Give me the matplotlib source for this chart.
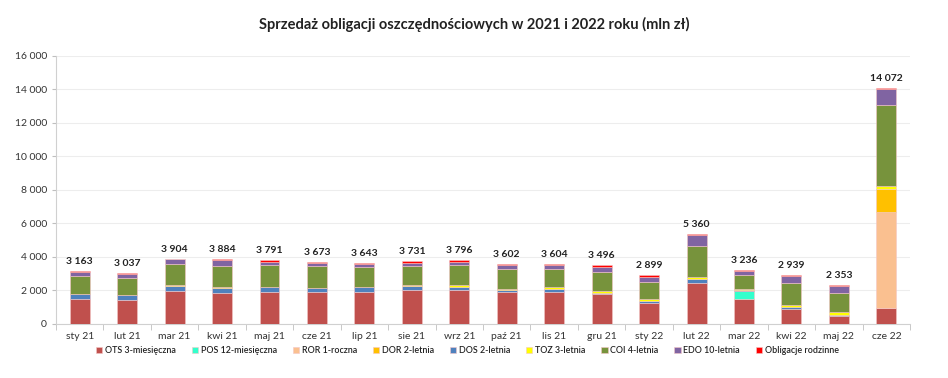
import numpy as np
import matplotlib
matplotlib.use("Agg")
import matplotlib.pyplot as plt

plt.rcParams['font.family'] = ['Lato', 'DejaVu Sans']

# miesiace
months = ["sty 21", "lut 21", "mar 21", "kwi 21", "maj 21", "cze 21",
          "lip 21", "sie 21", "wrz 21", "paź 21", "lis 21", "gru 21",
          "sty 22", "lut 22", "mar 22", "kwi 22", "maj 22", "cze 22"]

# sprzedaz w mln zl
ots = [1470, 1430, 1970, 1830, 1890, 1930, 1930, 2030, 2030, 1930, 1930, 1770,
       1270, 2430, 1490, 880, 480, 970]
pos = [0, 0, 0, 0, 0, 0, 0, 0, 0, 0, 0, 0, 0, 0, 480, 0, 0, 0]
ror = [0, 0, 0, 0, 0, 0, 0, 0, 0, 0, 0, 0, 0, 0, 0, 0, 0, 5730]
dor = [0, 0, 0, 0, 0, 0, 0, 0, 0, 0, 0, 0, 0, 0, 0, 0, 0, 1340]
dos = [300, 300, 320, 340, 320, 220, 260, 260, 200, 120, 180, 100,
       120, 240, 60, 150, 80, 0]
toz = [20, 20, 20, 20, 20, 20, 20, 20, 70, 50, 80, 120,
       80, 120, 80, 100, 140, 200]
coi = [1080, 1000, 1270, 1290, 1290, 1290, 1170, 1150, 1220, 1180, 1070, 1130,
       1020, 1880, 820, 1340, 1130, 4830]
edo = [250, 250, 280, 340, 200, 160, 200, 200, 200, 240, 260, 300,
       340, 640, 250, 400, 460, 940]
fam = [43, 37, 44, 64, 71, 53, 63, 71, 76, 82, 84, 76,
       69, 50, 56, 69, 63, 62]

series = [
    ("OTS 3-miesięczna", ots, "#C0504D"),
    ("POS 12-miesięczna", pos, "#33FFCC"),
    ("ROR 1-roczna", ror, "#FAC090"),
    ("DOR 2-letnia", dor, "#FFC000"),
    ("DOS 2-letnia", dos, "#4F81BD"),
    ("TOZ 3-letnia", toz, "#FFFF00"),
    ("COI 4-letnia", coi, "#77933C"),
    ("EDO 10-letnia", edo, "#8064A2"),
    ("Obligacje rodzinne", fam, "#FF0000"),
]


def main():
    fig = plt.figure(figsize=(9.48, 3.78), dpi=100)
    ax = fig.add_axes([0.059, 0.143, 0.901, 0.709])

    x = np.arange(len(months))
    bottom = np.zeros(len(months))
    for name, vals, col in series:
        vals = np.array(vals, dtype=float)
        ax.bar(x, vals, 0.42, bottom=bottom, color=col, label=name,
               edgecolor="#F4C6C6", linewidth=0.4, zorder=3)
        bottom += vals

    # sumy nad slupkami
    for xi, tot in zip(x, bottom):
        txt = "{:,.0f}".format(tot).replace(",", " ")
        ax.text(xi, tot + 300, txt, ha="center", va="bottom",
                fontsize=7.5, fontweight="bold", color="#222222")

    ax.set_xlim(-0.5, len(months) - 0.5)
    ax.set_ylim(0, 16000)
    yt = np.arange(0, 16001, 2000)
    ax.set_yticks(yt)
    ax.set_yticklabels(["{:,}".format(v).replace(",", " ") for v in yt])
    ax.set_xticks(x)
    ax.set_xticklabels(months)
    ax.set_xticks(np.arange(-0.5, len(months), 1), minor=True)
    ax.tick_params(axis="x", which="major", length=0, labelsize=7.5,
                   colors="#333333", pad=6)
    ax.tick_params(axis="x", which="minor", length=4, color="#BFBFBF")
    ax.tick_params(axis="y", length=3, color="#BFBFBF", labelsize=7.5,
                   colors="#333333")
    for lbl in ax.get_yticklabels():
        lbl.set_color("#333333")

    ax.grid(axis="y", color="#EDEDED", linewidth=0.8, zorder=0)
    ax.spines["top"].set_visible(False)
    ax.spines["right"].set_visible(False)
    ax.spines["left"].set_color("#D0D0D0")
    ax.spines["bottom"].set_color("#D0D0D0")

    fig.suptitle("Sprzedaż obligacji oszczędnościowych w 2021 i 2022 roku (mln zł)",
                 x=0.5, y=0.955, fontsize=10.5, fontweight="bold", color="#222222")

    leg = fig.legend(loc="center", bbox_to_anchor=(0.493, 0.072), ncol=9, frameon=False,
                     prop={"size": 6.4, "weight": "semibold"}, handlelength=0.7,
                     handleheight=0.7, handletextpad=0.3, columnspacing=1.8)
    for t in leg.get_texts():
        t.set_color("#222222")

    fig.savefig("out.png", dpi=100)


if __name__ == '__main__':
    main()
